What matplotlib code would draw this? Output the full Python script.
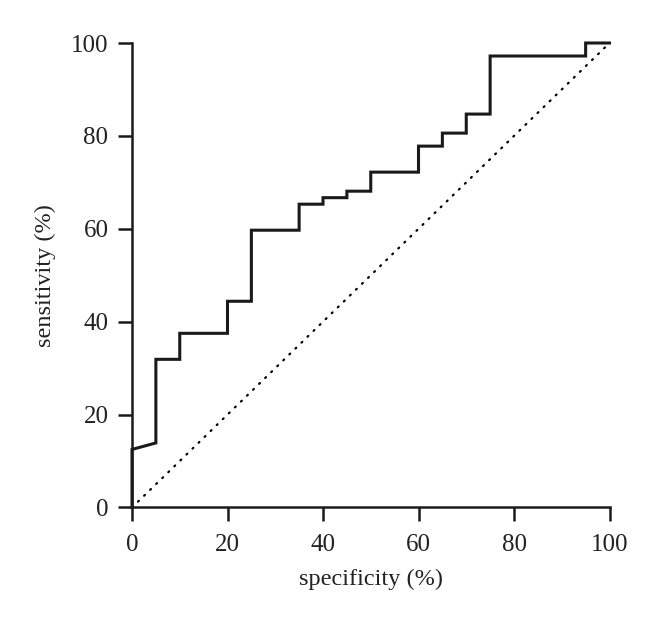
import matplotlib
matplotlib.use("Agg")
import matplotlib.pyplot as plt

# ROC step curve (specificity %, sensitivity %)
specificity = [0, 0, 5, 5, 10, 10, 20, 20, 25, 25, 35, 35, 40, 40, 45, 45, 50, 50,
               60, 60, 65, 65, 70, 70, 75, 75, 95, 95, 100]
sensitivity = [0, 12.5, 13.9, 31.9, 31.9, 37.5, 37.5, 44.4, 44.4, 59.7, 59.7, 65.3,
               65.3, 66.7, 66.7, 68.1, 68.1, 72.2, 72.2, 77.8, 77.8, 80.6, 80.6,
               84.7, 84.7, 97.2, 97.2, 100, 100]
diag_x = [0, 100]
diag_y = [0, 100]
ticks = [0, 20, 40, 60, 80, 100]

plt.rcParams['font.family'] = ['Liberation Serif', 'DejaVu Serif']

fig = plt.figure(figsize=(6.6, 6.27), dpi=100)
ax = fig.add_axes([0.2, 0.1906, 0.7235, 0.7408])

ax.plot(diag_x, diag_y, linestyle=(0, (0.5, 3.3)), color='black', linewidth=1.6,
        dash_capstyle='round')
ax.plot(specificity, sensitivity, color='#1a1a1a', linewidth=2.2, solid_joinstyle='miter',
        clip_on=False)

ax.set_xlim(0, 100)
ax.set_ylim(0, 100)
ax.set_xticks(ticks)
ax.set_yticks(ticks)
ax.spines['top'].set_visible(False)
ax.spines['right'].set_visible(False)
for s in ['left', 'bottom']:
    ax.spines[s].set_linewidth(1.8)
    ax.spines[s].set_color('#1a1a1a')
ax.tick_params(direction='out', length=10, width=1.8, labelsize=18, color='#1a1a1a',
               labelcolor='#222222')
ax.tick_params(axis='x', pad=9)
ax.tick_params(axis='y', pad=7)
ax.set_xlabel('specificity (%)', fontsize=17.5, labelpad=9, color='#222222')
ax.set_ylabel('sensitivity (%)', fontsize=17.5, labelpad=11, color='#222222')

fig.savefig('out.png', dpi=100)
